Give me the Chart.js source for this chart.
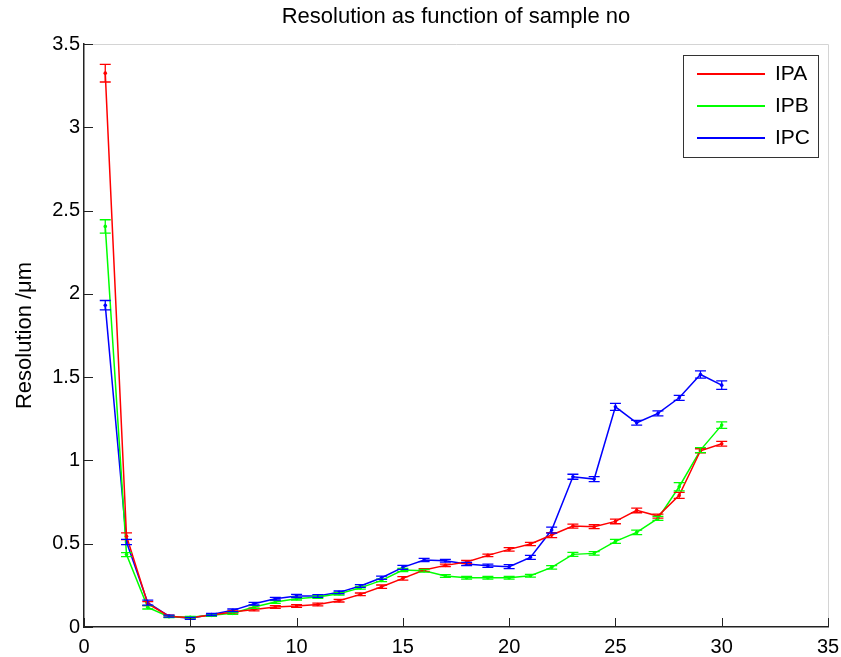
<!DOCTYPE html>
<html>
<head>
<meta charset="utf-8">
<script src="https://cdn.jsdelivr.net/npm/chart.js@4/dist/chart.umd.min.js"></script>
<style>
  html, body { margin: 0; padding: 0; background: #fff; }
  canvas { display: block; }
</style>
</head>
<body>
<canvas id="c" width="841" height="657"></canvas>
<script>
// Sample numbers
const samples = [1,2,3,4,5,6,7,8,9,10,11,12,13,14,15,16,17,18,19,20,21,22,23,24,25,26,27,28,29,30];

// Mean resolution (µm) per sample
const ipa = [3.325,0.545,0.140,0.065,0.055,0.072,0.090,0.105,0.120,0.126,0.135,0.158,0.196,0.242,0.292,0.342,0.370,0.390,0.430,0.466,0.498,0.552,0.606,0.602,0.634,0.700,0.666,0.790,1.058,1.100];
const ipb = [2.405,0.435,0.118,0.062,0.058,0.070,0.082,0.120,0.150,0.170,0.180,0.200,0.235,0.280,0.342,0.338,0.306,0.296,0.296,0.296,0.308,0.358,0.436,0.442,0.514,0.568,0.652,0.842,1.062,1.212];
const ipc = [1.932,0.510,0.146,0.065,0.052,0.075,0.100,0.140,0.170,0.186,0.186,0.208,0.246,0.296,0.358,0.402,0.398,0.378,0.368,0.362,0.418,0.582,0.902,0.888,1.322,1.226,1.282,1.376,1.516,1.452];

// Standard error of each mean
const ipaErr = [0.053,0.020,0.012,0.006,0.005,0.006,0.006,0.008,0.008,0.008,0.008,0.008,0.008,0.010,0.010,0.008,0.008,0.010,0.008,0.010,0.010,0.015,0.012,0.012,0.014,0.014,0.012,0.018,0.012,0.014];
const ipbErr = [0.040,0.012,0.010,0.006,0.005,0.006,0.006,0.008,0.008,0.008,0.008,0.008,0.008,0.008,0.010,0.008,0.008,0.008,0.008,0.008,0.008,0.010,0.012,0.010,0.012,0.014,0.012,0.025,0.015,0.020];
const ipcErr = [0.028,0.016,0.015,0.006,0.006,0.006,0.008,0.008,0.008,0.010,0.008,0.008,0.008,0.010,0.012,0.010,0.008,0.010,0.010,0.012,0.012,0.018,0.015,0.015,0.021,0.014,0.015,0.015,0.022,0.026];

const seriesNames = ['IPA', 'IPB', 'IPC'];
const seriesColors = ['#ff0000', '#00ff00', '#0000ff'];

const xTicks = [0,5,10,15,20,25,30,35];
const yTicks = [0,0.5,1,1.5,2,2.5,3,3.5];

const titleText = 'Resolution as function of sample no';
const yTitle = 'Resolution /μm';

const FONT = '"Liberation Sans", Arial, sans-serif';

function series(i, values, errors) {
  return {
    label: seriesNames[i],
    data: samples.map((s, k) => ({ x: s, y: values[k] })),
    errors,
    borderColor: seriesColors[i],
    backgroundColor: seriesColors[i],
    borderWidth: 1.5,
    pointRadius: 1.8,
    pointHoverRadius: 1.8,
    pointBorderWidth: 0,
    tension: 0,
    fill: false
  };
}

// Error bars with caps, placed through the chart scales
const errorBars = {
  id: 'errorBars',
  afterDatasetsDraw(chart) {
    const { ctx } = chart;
    const xs = chart.scales.x, ys = chart.scales.y;
    const cap = 5.5;
    chart.data.datasets.forEach((ds, d) => {
      ctx.save();
      ctx.strokeStyle = seriesColors[d];
      ctx.lineWidth = 1.3;
      ds.data.forEach((p, i) => {
        const e = ds.errors[i];
        const px = xs.getPixelForValue(p.x);
        const top = ys.getPixelForValue(p.y + e);
        const bot = ys.getPixelForValue(p.y - e);
        ctx.beginPath();
        ctx.moveTo(px, top); ctx.lineTo(px, bot);
        ctx.moveTo(px - cap, top); ctx.lineTo(px + cap, top);
        ctx.moveTo(px - cap, bot); ctx.lineTo(px + cap, bot);
        ctx.stroke();
      });
      ctx.restore();
    });
  }
};

// Title, axes frame with inward tick marks, light top/right edges, boxed legend
const frame = {
  id: 'frame',
  afterDraw(chart) {
    const { ctx, chartArea: a } = chart;
    const xs = chart.scales.x, ys = chart.scales.y;
    ctx.save();

    ctx.fillStyle = '#000';
    ctx.font = '22px ' + FONT;
    ctx.textAlign = 'center';
    ctx.textBaseline = 'middle';
    ctx.fillText(titleText, (a.left + a.right) / 2, 17);

    ctx.strokeStyle = '#d4d4d4';
    ctx.lineWidth = 1;
    ctx.beginPath();
    ctx.moveTo(a.left, a.top + 0.5); ctx.lineTo(a.right + 0.5, a.top + 0.5);
    ctx.lineTo(a.right + 0.5, a.bottom);
    ctx.stroke();

    ctx.strokeStyle = '#222';
    ctx.lineWidth = 1;
    ctx.beginPath();
    xTicks.forEach(v => {
      const px = Math.round(xs.getPixelForValue(v)) + 0.5;
      ctx.moveTo(px, a.bottom); ctx.lineTo(px, a.bottom - 9);
    });
    yTicks.forEach(v => {
      const py = Math.round(ys.getPixelForValue(v)) + 0.5;
      ctx.moveTo(a.left, py); ctx.lineTo(a.left + 9, py);
    });
    ctx.stroke();

    // legend
    const bx = a.right - 145, by = a.top + 11, bw = 135, bh = 102;
    ctx.fillStyle = '#fff';
    ctx.fillRect(bx, by, bw, bh);
    ctx.strokeStyle = '#333';
    ctx.lineWidth = 1;
    ctx.strokeRect(bx + 0.5, by + 0.5, bw, bh);
    ctx.font = '21px ' + FONT;
    ctx.textBaseline = 'middle';
    ctx.textAlign = 'left';
    seriesNames.forEach((name, i) => {
      const ly = by + 18 + i * 32;
      ctx.fillStyle = seriesColors[i];
      ctx.fillRect(bx + 14, ly, 68, 2);
      ctx.fillStyle = '#000';
      ctx.fillText(name, bx + 92, ly + 1);
    });
    ctx.restore();
  }
};

new Chart(document.getElementById('c'), {
  type: 'line',
  data: {
    datasets: [
      series(0, ipa, ipaErr),
      series(1, ipb, ipbErr),
      series(2, ipc, ipcErr)
    ]
  },
  options: {
    responsive: false,
    devicePixelRatio: 1,
    animation: false,
    events: [],
    layout: { padding: { top: 44, right: 13, bottom: 0, left: 0 } },
    plugins: {
      legend: { display: false },
      tooltip: { enabled: false },
      title: { display: false }
    },
    scales: {
      x: {
        type: 'linear',
        min: 0, max: 35,
        afterBuildTicks: s => { s.ticks = xTicks.map(v => ({ value: v })); },
        afterFit: s => { s.height = 30; s.paddingRight = 0; s.paddingLeft = 0; },
        grid: { display: false, drawTicks: false },
        border: { display: true, color: '#222', width: 1.5 },
        ticks: { color: '#000', padding: 8, font: { family: FONT, size: 20 }, maxRotation: 0,
                 callback: v => String(v) }
      },
      y: {
        type: 'linear',
        min: 0, max: 3.5,
        afterBuildTicks: s => { s.ticks = yTicks.map(v => ({ value: v })); },
        afterFit: s => { s.width = 84; s.paddingTop = 0; s.paddingBottom = 0; },
        grid: { display: false, drawTicks: false },
        border: { display: true, color: '#222', width: 1.5 },
        ticks: { color: '#000', padding: 4, font: { family: FONT, size: 20 },
                 callback: v => String(v) },
        title: {
          display: true,
          text: yTitle,
          color: '#000',
          font: { family: FONT, size: 22, lineHeight: 1.2 },
          padding: { top: 12, bottom: 0 }
        }
      }
    }
  },
  plugins: [errorBars, frame]
});
</script>
</body>
</html>
